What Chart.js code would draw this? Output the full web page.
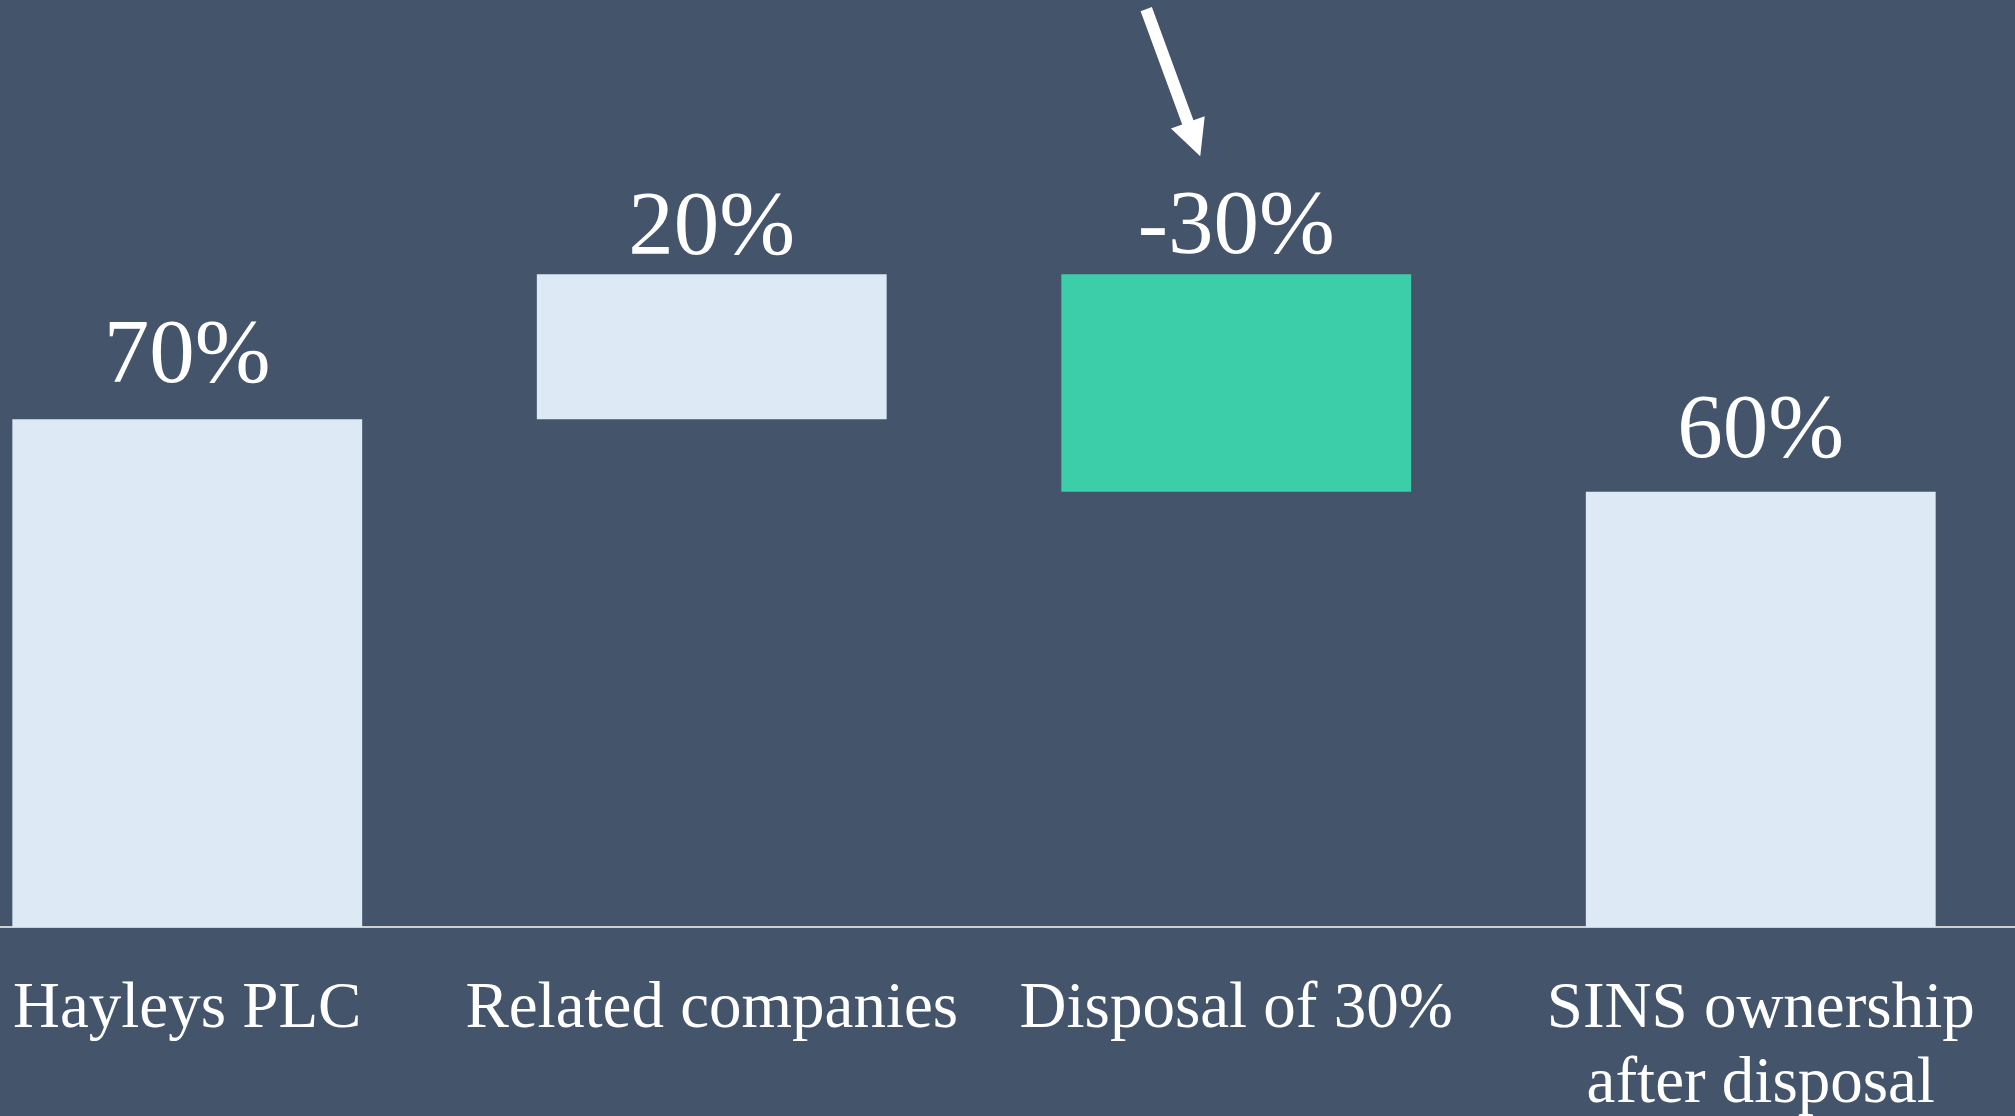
<!DOCTYPE html>
<html>
<head>
<meta charset="utf-8">
<script src="https://cdn.jsdelivr.net/npm/chart.js@4.4.1/dist/chart.umd.min.js"></script>
<style>
  html, body { margin: 0; padding: 0; width: 2015px; height: 1116px; overflow: hidden; background: #44546A; }
  #wrap { position: absolute; left: -75px; top: 0; width: 2098px; height: 1116px; }
</style>
</head>
<body>
<div id="wrap"><canvas id="c"></canvas></div>
<script>
// ---- data ----
const categories = ["Hayleys PLC", "Related companies", "Disposal of 30%", ["SINS ownership", "after disposal"]];
const barStart = [0, 70, 60, 0];
const barEnd = [70, 90, 90, 60];
const valueLabels = ["70%", "20%", "-30%", "60%"];
const barColors = ["#DDE9F5", "#DDE9F5", "#3BCEA8", "#DDE9F5"];

const floatingData = barStart.map((s, i) => [s, barEnd[i]]);

const labelGap = [37, 20, 21, 35];

const labelPlugin = {
  id: 'valueLabels',
  afterDatasetsDraw(chart) {
    const ctx = chart.ctx;
    const meta = chart.getDatasetMeta(0);
    ctx.save();
    ctx.fillStyle = '#FFFFFF';
    ctx.font = '91px "Liberation Serif"';
    ctx.textAlign = 'center';
    ctx.textBaseline = 'alphabetic';
    meta.data.forEach((el, i) => {
      const top = Math.min(el.y, el.base);
      ctx.fillText(valueLabels[i], el.x, top - labelGap[i]);
    });
    // arrow pointing at the disposal bar
    const el = meta.data[2];
    const tipX = el.x - 36;
    const tipY = Math.min(el.y, el.base) - 118;
    const tailX = tipX - 54, tailY = tipY - 147;
    const ang = Math.atan2(tipY - tailY, tipX - tailX);
    const headLen = 36, headHalf = 18, shaftHalf = 6;
    const bx = tipX - headLen * Math.cos(ang), by = tipY - headLen * Math.sin(ang);
    const px = -Math.sin(ang), py = Math.cos(ang);
    ctx.fillStyle = '#FFFFFF';
    ctx.beginPath();
    ctx.moveTo(tailX + px * shaftHalf, tailY + py * shaftHalf);
    ctx.lineTo(bx + px * shaftHalf, by + py * shaftHalf);
    ctx.lineTo(bx + px * headHalf, by + py * headHalf);
    ctx.lineTo(tipX, tipY);
    ctx.lineTo(bx - px * headHalf, by - py * headHalf);
    ctx.lineTo(bx - px * shaftHalf, by - py * shaftHalf);
    ctx.lineTo(tailX - px * shaftHalf, tailY - py * shaftHalf);
    ctx.closePath();
    ctx.fill();
    ctx.restore();
  }
};

new Chart(document.getElementById('c'), {
  type: 'bar',
  data: {
    labels: categories,
    datasets: [{
      data: floatingData,
      backgroundColor: barColors,
      borderWidth: 0,
      barPercentage: 0.667,
      categoryPercentage: 1.0
    }]
  },
  options: {
    responsive: true,
    maintainAspectRatio: false,
    animation: false,
    layout: { padding: 0 },
    plugins: { legend: { display: false }, tooltip: { enabled: false } },
    scales: {
      x: {
        grid: { display: false, drawTicks: false },
        border: { display: true, color: '#D0D0D0', width: 2 },
        ticks: {
          color: '#FFFFFF',
          font: { family: '"Liberation Serif"', size: 65, lineHeight: 1.15 },
          padding: 46,
          maxRotation: 0,
          autoSkip: false
        },
        afterFit(scale) { scale.height = 189; }
      },
      y: {
        display: false,
        min: 0,
        max: 127.8
      }
    }
  },
  plugins: [labelPlugin]
});
</script>
</body>
</html>
